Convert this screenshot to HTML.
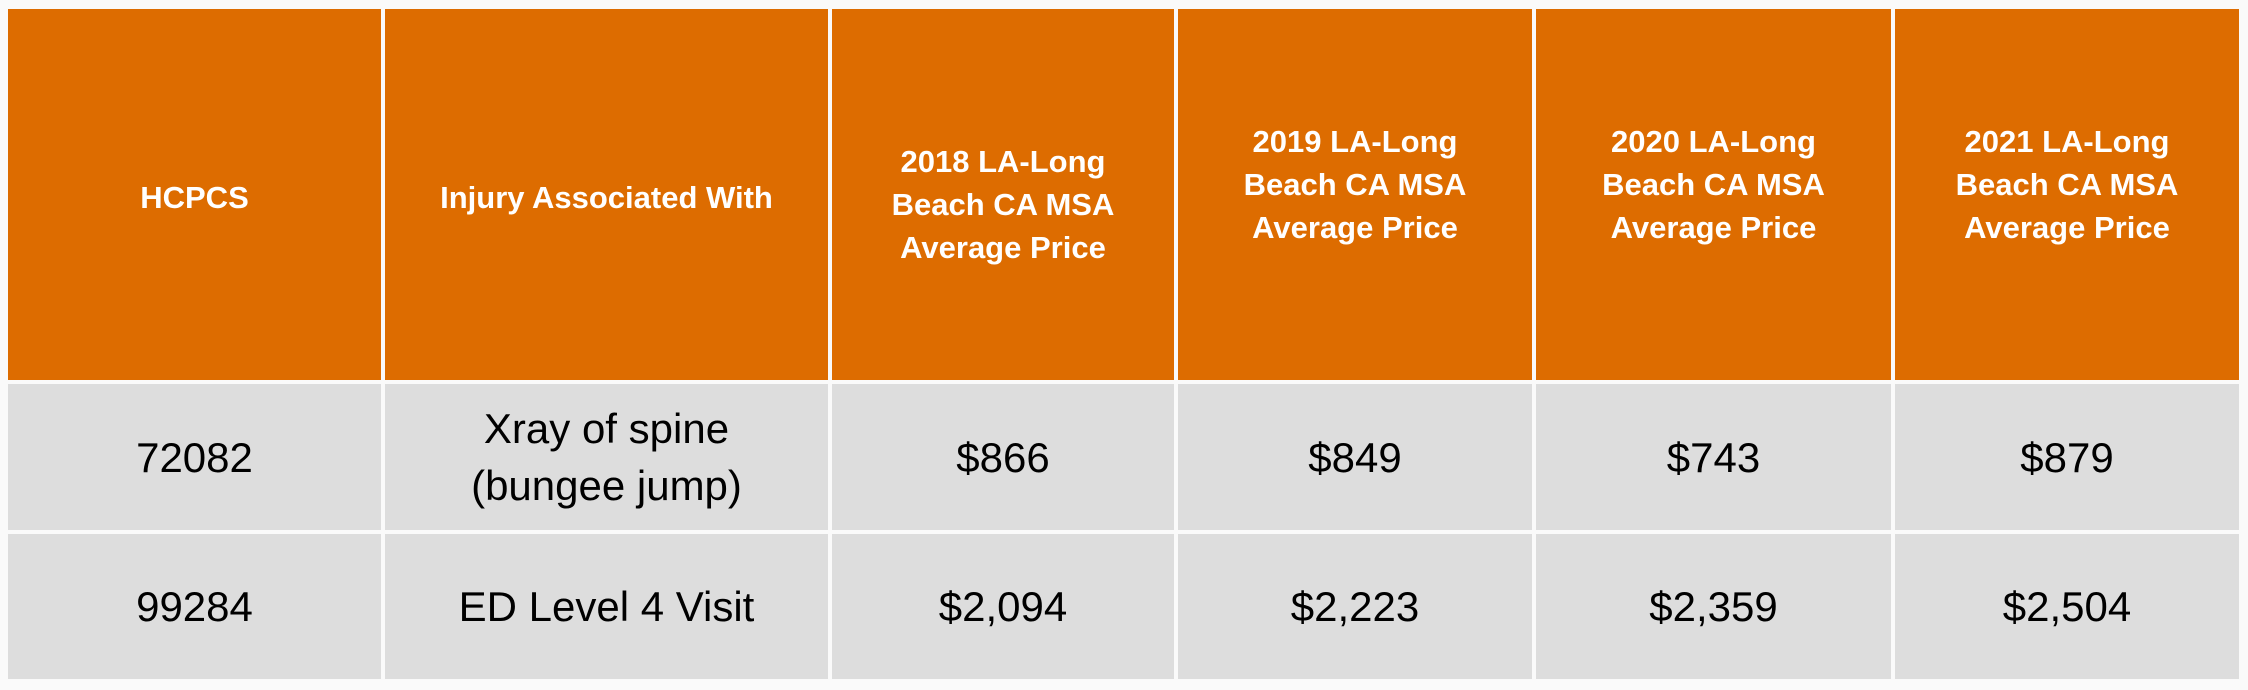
<!DOCTYPE html>
<html><head><meta charset="utf-8"><style>
body{margin:0;width:2248px;height:690px;background:#fafafa;overflow:hidden;font-family:"Liberation Sans",sans-serif}
.c{position:absolute;display:flex;align-items:center;justify-content:center;text-align:center}
.h{background:#dd6c00;color:#fff;font-weight:bold;font-size:31px;line-height:43px}
.b{background:#dddddd;color:#000;font-size:42px;line-height:57px}
</style></head><body>
<div class="c h" style="left:8px;top:9px;width:373px;height:371px;padding-top:6px;box-sizing:border-box">HCPCS</div>
<div class="c h" style="left:385px;top:9px;width:443px;height:371px;padding-top:6px;box-sizing:border-box">Injury Associated With</div>
<div class="c h" style="left:832px;top:9px;width:342px;height:371px;padding-top:20px;box-sizing:border-box">2018 LA-Long<br>Beach CA MSA<br>Average Price</div>
<div class="c h" style="left:1178px;top:9px;width:354px;height:371px;padding-bottom:20px;box-sizing:border-box">2019 LA-Long<br>Beach CA MSA<br>Average Price</div>
<div class="c h" style="left:1536px;top:9px;width:355px;height:371px;padding-bottom:20px;box-sizing:border-box">2020 LA-Long<br>Beach CA MSA<br>Average Price</div>
<div class="c h" style="left:1895px;top:9px;width:344px;height:371px;padding-bottom:20px;box-sizing:border-box">2021 LA-Long<br>Beach CA MSA<br>Average Price</div>

<div class="c b" style="left:8px;top:384px;width:373px;height:146px">72082</div>
<div class="c b" style="left:385px;top:384px;width:443px;height:146px">Xray of spine<br>(bungee jump)</div>
<div class="c b" style="left:832px;top:384px;width:342px;height:146px">$866</div>
<div class="c b" style="left:1178px;top:384px;width:354px;height:146px">$849</div>
<div class="c b" style="left:1536px;top:384px;width:355px;height:146px">$743</div>
<div class="c b" style="left:1895px;top:384px;width:344px;height:146px">$879</div>

<div class="c b" style="left:8px;top:534px;width:373px;height:145px">99284</div>
<div class="c b" style="left:385px;top:534px;width:443px;height:145px">ED Level 4 Visit</div>
<div class="c b" style="left:832px;top:534px;width:342px;height:145px">$2,094</div>
<div class="c b" style="left:1178px;top:534px;width:354px;height:145px">$2,223</div>
<div class="c b" style="left:1536px;top:534px;width:355px;height:145px">$2,359</div>
<div class="c b" style="left:1895px;top:534px;width:344px;height:145px">$2,504</div>
</body></html>
